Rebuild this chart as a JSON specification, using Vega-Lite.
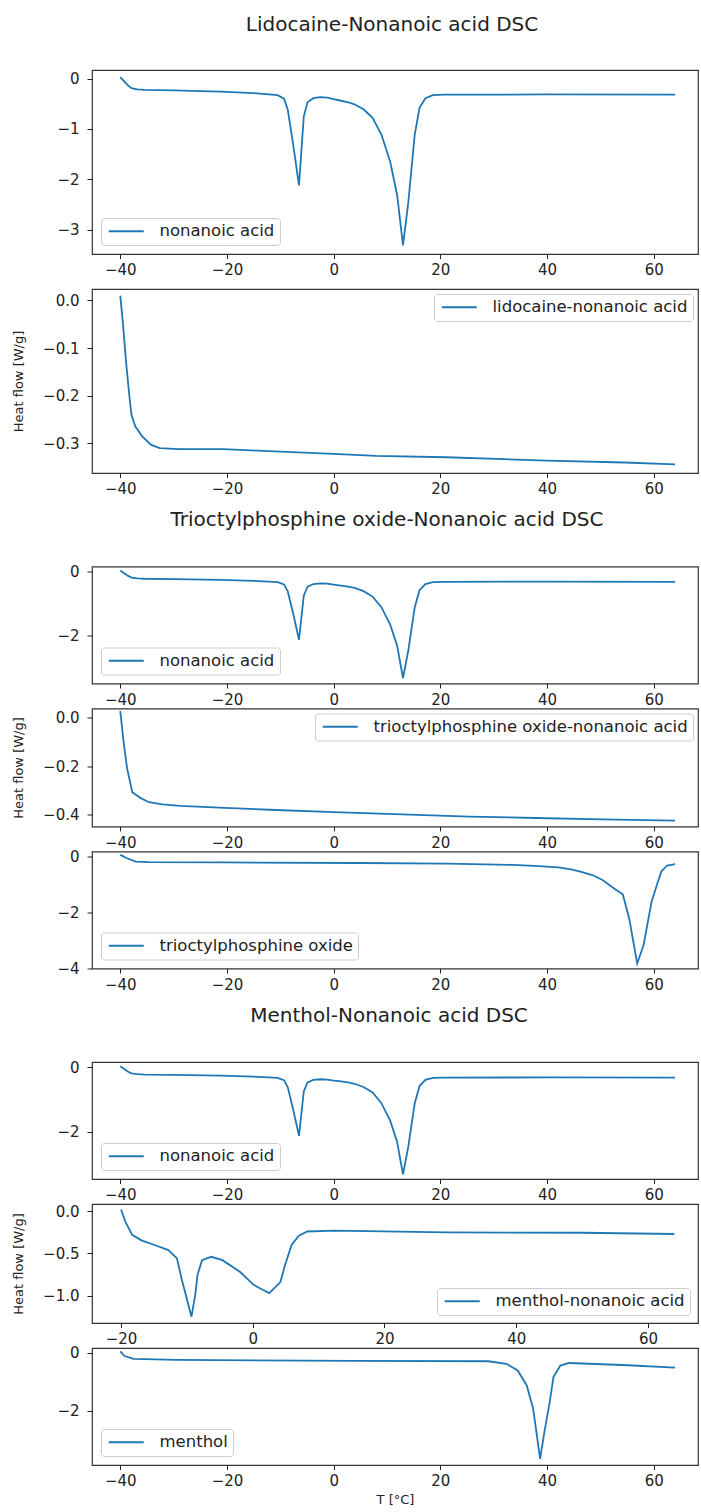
{
  "$schema": "https://vega.github.io/schema/vega-lite/v6.json",
  "padding": {"top": 15, "left": 11, "right": 0, "bottom": 0},
  "background": "white",
  "config": {
    "font": "DejaVu Sans",
    "view": {"stroke": "#333333", "strokeWidth": 1.2},
    "axis": {"grid": false, "domain": false, "tickColor": "#222222", "tickWidth": 1, "labelColor": "#222222", "labelFontSize": 15, "labelFont": "DejaVu Sans", "labelFlush": false, "labelOverlap": false, "titleFont": "DejaVu Sans", "titleFontSize": 13, "titleFontWeight": "normal", "titleColor": "#222222"},
    "axisX": {"tickSize": 4.5, "labelPadding": 4},
    "axisY": {"tickSize": 5, "labelPadding": 8},
    "legend": {"title": null, "labelFont": "DejaVu Sans", "labelFontSize": 16.5, "labelColor": "#222222", "labelLimit": 0, "symbolType": "M-3.18,0H3.18", "symbolSize": 121, "symbolStrokeWidth": 1.8, "symbolOffset": 12, "labelOffset": 25, "padding": 5, "strokeColor": "#cccccc", "fillColor": "white", "cornerRadius": 3, "offset": 7},
    "title": {"font": "DejaVu Sans", "fontSize": 20, "fontWeight": "normal", "color": "#222222", "anchor": "middle", "offset": 34},
    "line": {"strokeWidth": 1.8}
  },
  "datasets": {
    "na": [
      {"T": -40, "h": 0.03}, {"T": -39.4, "h": -0.04}, {"T": -38.6, "h": -0.13}, {"T": -37.9, "h": -0.19}, {"T": -36.8, "h": -0.215}, {"T": -35.4, "h": -0.225}, {"T": -30, "h": -0.235}, {"T": -21.2, "h": -0.26}, {"T": -15, "h": -0.29}, {"T": -10.5, "h": -0.33}, {"T": -9.3, "h": -0.4}, {"T": -8.6, "h": -0.62}, {"T": -7.6, "h": -1.3}, {"T": -6.5, "h": -2.12}, {"T": -5.6, "h": -0.75}, {"T": -4.9, "h": -0.47}, {"T": -3.8, "h": -0.39}, {"T": -2.5, "h": -0.37}, {"T": -1.2, "h": -0.38}, {"T": 0, "h": -0.41}, {"T": 1.0, "h": -0.43}, {"T": 2.7, "h": -0.47}, {"T": 3.9, "h": -0.51}, {"T": 5.6, "h": -0.61}, {"T": 7.3, "h": -0.78}, {"T": 8.95, "h": -1.11}, {"T": 10.6, "h": -1.65}, {"T": 11.9, "h": -2.31}, {"T": 13.0, "h": -3.31}, {"T": 14.0, "h": -2.45}, {"T": 15.2, "h": -1.11}, {"T": 16.1, "h": -0.58}, {"T": 17.2, "h": -0.39}, {"T": 18.6, "h": -0.33}, {"T": 20.7, "h": -0.32}, {"T": 40, "h": -0.315}, {"T": 64, "h": -0.32}
    ],
    "lido": [
      {"T": -40, "h": 0.01}, {"T": -39.5, "h": -0.048}, {"T": -38.9, "h": -0.131}, {"T": -38.3, "h": -0.2}, {"T": -37.9, "h": -0.24}, {"T": -37.2, "h": -0.264}, {"T": -35.9, "h": -0.285}, {"T": -34.2, "h": -0.303}, {"T": -32.6, "h": -0.31}, {"T": -29, "h": -0.312}, {"T": -20.7, "h": -0.312}, {"T": -12.2, "h": -0.316}, {"T": 0, "h": -0.322}, {"T": 8, "h": -0.326}, {"T": 21, "h": -0.329}, {"T": 32, "h": -0.333}, {"T": 40, "h": -0.336}, {"T": 54.5, "h": -0.34}, {"T": 64, "h": -0.344}
    ],
    "topona": [
      {"T": -40, "h": 0.027}, {"T": -39.4, "h": -0.095}, {"T": -38.75, "h": -0.205}, {"T": -37.75, "h": -0.307}, {"T": -36.25, "h": -0.33}, {"T": -34.6, "h": -0.348}, {"T": -32.1, "h": -0.357}, {"T": -28.75, "h": -0.363}, {"T": -20.4, "h": -0.371}, {"T": -12.1, "h": -0.379}, {"T": 0, "h": -0.389}, {"T": 12.9, "h": -0.398}, {"T": 25.4, "h": -0.407}, {"T": 37.9, "h": -0.413}, {"T": 50.4, "h": -0.419}, {"T": 64, "h": -0.424}
    ],
    "topo": [
      {"T": -40, "h": 0.06}, {"T": -38.75, "h": -0.06}, {"T": -37.1, "h": -0.18}, {"T": -34.6, "h": -0.2}, {"T": -20.4, "h": -0.21}, {"T": 4.6, "h": -0.23}, {"T": 21.25, "h": -0.25}, {"T": 33.75, "h": -0.3}, {"T": 38.5, "h": -0.34}, {"T": 42.1, "h": -0.39}, {"T": 44.5, "h": -0.46}, {"T": 46.25, "h": -0.54}, {"T": 48.5, "h": -0.66}, {"T": 50.4, "h": -0.84}, {"T": 52.9, "h": -1.19}, {"T": 54.2, "h": -1.35}, {"T": 55.4, "h": -2.21}, {"T": 56.9, "h": -3.82}, {"T": 58.1, "h": -3.16}, {"T": 59.6, "h": -1.61}, {"T": 60.4, "h": -1.13}, {"T": 61.4, "h": -0.54}, {"T": 62.5, "h": -0.32}, {"T": 64, "h": -0.27}
    ],
    "menna": [
      {"T": -20, "h": 0.02}, {"T": -19.3, "h": -0.13}, {"T": -18.3, "h": -0.28}, {"T": -16.9, "h": -0.345}, {"T": -14.9, "h": -0.4}, {"T": -12.8, "h": -0.46}, {"T": -11.5, "h": -0.56}, {"T": -10.8, "h": -0.8}, {"T": -9.3, "h": -1.25}, {"T": -8.7, "h": -0.98}, {"T": -8.4, "h": -0.76}, {"T": -7.7, "h": -0.58}, {"T": -6.3, "h": -0.54}, {"T": -4.6, "h": -0.58}, {"T": -1.9, "h": -0.72}, {"T": 0.1, "h": -0.87}, {"T": 1.5, "h": -0.93}, {"T": 2.5, "h": -0.97}, {"T": 3.55, "h": -0.89}, {"T": 4.2, "h": -0.84}, {"T": 4.9, "h": -0.64}, {"T": 5.9, "h": -0.4}, {"T": 7.0, "h": -0.29}, {"T": 8.3, "h": -0.24}, {"T": 12.4, "h": -0.23}, {"T": 29.5, "h": -0.25}, {"T": 50, "h": -0.255}, {"T": 64, "h": -0.27}
    ],
    "men": [
      {"T": -40, "h": 0.05}, {"T": -39.2, "h": -0.11}, {"T": -37.5, "h": -0.21}, {"T": -29.5, "h": -0.24}, {"T": 3.9, "h": -0.28}, {"T": 29, "h": -0.29}, {"T": 32.4, "h": -0.38}, {"T": 34.5, "h": -0.61}, {"T": 36.2, "h": -1.13}, {"T": 37.4, "h": -1.94}, {"T": 38.7, "h": -3.68}, {"T": 39.5, "h": -2.75}, {"T": 40.5, "h": -1.71}, {"T": 41.2, "h": -0.84}, {"T": 42.5, "h": -0.44}, {"T": 44.1, "h": -0.35}, {"T": 54.2, "h": -0.42}, {"T": 64, "h": -0.51}
    ]
  },
  "spacing": 11.5,
  "resolve": {"scale": {"x": "independent", "y": "independent", "color": "independent"}, "legend": {"color": "independent"}, "axis": {"x": "independent", "y": "independent"}},
  "vconcat": [
    {
      "title": {"text": "Lidocaine-Nonanoic acid DSC", "dx": 37},
      "spacing": 9,
      "resolve": {"scale": {"x": "independent", "y": "independent", "color": "independent"}, "legend": {"color": "independent"}, "axis": {"x": "independent", "y": "independent"}},
      "vconcat": [
        {
          "width": 606, "height": 184,
          "data": {"name": "na"},
          "mark": {"type": "line"},
          "encoding": {
            "x": {"field": "T", "type": "quantitative", "scale": {"domain": [-45.3, 68.3], "nice": false, "zero": false}, "axis": {"title": null, "values": [-40, -20, 0, 20, 40, 60]}},
            "y": {"field": "h", "type": "quantitative", "scale": {"domain": [-3.48, 0.17], "nice": false, "zero": false}, "axis": {"title": null, "values": [0, -1, -2, -3]}},
            "color": {"datum": "nonanoic acid", "type": "nominal", "scale": {"range": ["#1f77b4"]}, "legend": {"orient": "bottom-left", "offset": 9}}
          }
        },
        {
          "width": 606, "height": 184,
          "data": {"name": "lido"},
          "mark": {"type": "line"},
          "encoding": {
            "x": {"field": "T", "type": "quantitative", "scale": {"domain": [-45.3, 68.3], "nice": false, "zero": false}, "axis": {"title": null, "values": [-40, -20, 0, 20, 40, 60]}},
            "y": {"field": "h", "type": "quantitative", "scale": {"domain": [-0.362, 0.024], "nice": false, "zero": false}, "axis": {"title": "Heat flow [W/g]", "titleX": -74, "titleBaseline": "middle", "values": [0, -0.1, -0.2, -0.3], "format": ".1f"}},
            "color": {"datum": "lidocaine-nonanoic acid", "type": "nominal", "scale": {"range": ["#1f77b4"]}, "legend": {"orient": "top-right", "offset": 5}}
          }
        }
      ]
    },
    {
      "title": {"text": "Trioctylphosphine oxide-Nonanoic acid DSC", "dx": 32},
      "spacing": -3.5,
      "resolve": {"scale": {"x": "independent", "y": "independent", "color": "independent"}, "legend": {"color": "independent"}, "axis": {"x": "independent", "y": "independent"}},
      "vconcat": [
        {
          "width": 606, "height": 117,
          "data": {"name": "na"},
          "mark": {"type": "line"},
          "encoding": {
            "x": {"field": "T", "type": "quantitative", "scale": {"domain": [-45.3, 68.3], "nice": false, "zero": false}, "axis": {"title": null, "values": [-40, -20, 0, 20, 40, 60]}},
            "y": {"field": "h", "type": "quantitative", "scale": {"domain": [-3.48, 0.155], "nice": false, "zero": false}, "axis": {"title": null, "values": [0, -2]}},
            "color": {"datum": "nonanoic acid", "type": "nominal", "scale": {"range": ["#1f77b4"]}, "legend": {"orient": "bottom-left", "offset": 9}}
          }
        },
        {
          "width": 606, "height": 118,
          "data": {"name": "topona"},
          "mark": {"type": "line"},
          "encoding": {
            "x": {"field": "T", "type": "quantitative", "scale": {"domain": [-45.3, 68.3], "nice": false, "zero": false}, "axis": {"title": null, "values": [-40, -20, 0, 20, 40, 60]}},
            "y": {"field": "h", "type": "quantitative", "scale": {"domain": [-0.448, 0.038], "nice": false, "zero": false}, "axis": {"title": "Heat flow [W/g]", "titleX": -74, "titleBaseline": "middle", "values": [0, -0.2, -0.4], "format": ".1f"}},
            "color": {"datum": "trioctylphosphine oxide-nonanoic acid", "type": "nominal", "scale": {"range": ["#1f77b4"]}, "legend": {"orient": "top-right", "offset": 5}}
          }
        },
        {
          "width": 606, "height": 117,
          "data": {"name": "topo"},
          "mark": {"type": "line"},
          "encoding": {
            "x": {"field": "T", "type": "quantitative", "scale": {"domain": [-45.3, 68.3], "nice": false, "zero": false}, "axis": {"title": null, "values": [-40, -20, 0, 20, 40, 60]}},
            "y": {"field": "h", "type": "quantitative", "scale": {"domain": [-4.0, 0.18], "nice": false, "zero": false}, "axis": {"title": null, "values": [0, -2, -4]}},
            "color": {"datum": "trioctylphosphine oxide", "type": "nominal", "scale": {"range": ["#1f77b4"]}, "legend": {"orient": "bottom-left", "offset": 9}}
          }
        }
      ]
    },
    {
      "title": {"text": "Menthol-Nonanoic acid DSC", "dx": 34},
      "spacing": -3.5,
      "resolve": {"scale": {"x": "independent", "y": "independent", "color": "independent"}, "legend": {"color": "independent"}, "axis": {"x": "independent", "y": "independent"}},
      "vconcat": [
        {
          "width": 606, "height": 117,
          "data": {"name": "na"},
          "mark": {"type": "line"},
          "encoding": {
            "x": {"field": "T", "type": "quantitative", "scale": {"domain": [-45.3, 68.3], "nice": false, "zero": false}, "axis": {"title": null, "values": [-40, -20, 0, 20, 40, 60]}},
            "y": {"field": "h", "type": "quantitative", "scale": {"domain": [-3.455, 0.163], "nice": false, "zero": false}, "axis": {"title": null, "values": [0, -2]}},
            "color": {"datum": "nonanoic acid", "type": "nominal", "scale": {"range": ["#1f77b4"]}, "legend": {"orient": "bottom-left", "offset": 9}}
          }
        },
        {
          "width": 606, "height": 119,
          "data": {"name": "menna"},
          "mark": {"type": "line"},
          "encoding": {
            "x": {"field": "T", "type": "quantitative", "scale": {"domain": [-24.4, 67.6], "nice": false, "zero": false}, "axis": {"title": null, "values": [-20, 0, 20, 40, 60]}},
            "y": {"field": "h", "type": "quantitative", "scale": {"domain": [-1.325, 0.086], "nice": false, "zero": false}, "axis": {"title": "Heat flow [W/g]", "titleX": -74, "titleBaseline": "middle", "values": [0, -0.5, -1.0], "format": ".1f"}},
            "color": {"datum": "menthol-nonanoic acid", "type": "nominal", "scale": {"range": ["#1f77b4"]}, "legend": {"orient": "bottom-right", "offset": 8}}
          }
        },
        {
          "width": 606, "height": 117,
          "data": {"name": "men"},
          "mark": {"type": "line"},
          "encoding": {
            "x": {"field": "T", "type": "quantitative", "scale": {"domain": [-45.3, 68.3], "nice": false, "zero": false}, "axis": {"title": "T [°C]", "titlePadding": 5, "values": [-40, -20, 0, 20, 40, 60]}},
            "y": {"field": "h", "type": "quantitative", "scale": {"domain": [-3.89, 0.17], "nice": false, "zero": false}, "axis": {"title": null, "values": [0, -2]}},
            "color": {"datum": "menthol", "type": "nominal", "scale": {"range": ["#1f77b4"]}, "legend": {"orient": "bottom-left", "offset": 9}}
          }
        }
      ]
    }
  ]
}
